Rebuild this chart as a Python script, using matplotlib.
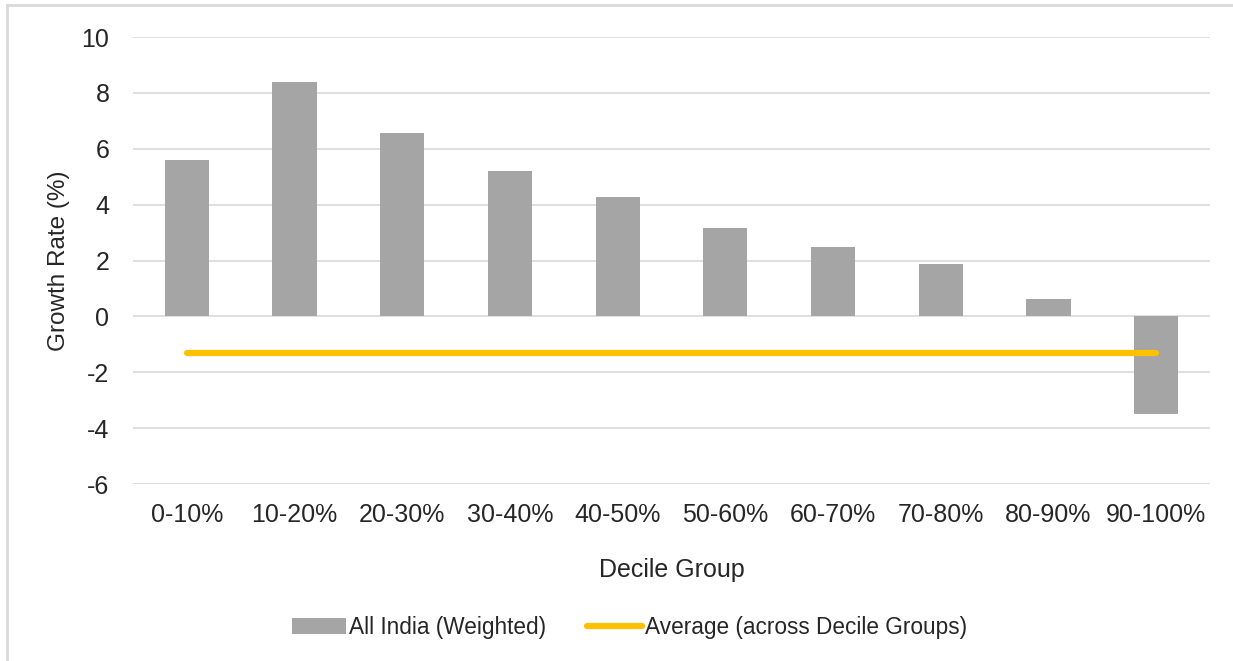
import matplotlib.pyplot as plt
from matplotlib.lines import Line2D

# Datos
deciles = ["0-10%", "10-20%", "20-30%", "30-40%", "40-50%",
           "50-60%", "60-70%", "70-80%", "80-90%", "90-100%"]
crecimiento = [5.6, 8.4, 6.55, 5.22, 4.29, 3.15, 2.47, 1.86, 0.61, -3.51]
promedio = [-1.32] * len(deciles)
ticks_y = [-6, -4, -2, 0, 2, 4, 6, 8, 10]

plt.rcParams["font.family"] = ["Liberation Sans", "DejaVu Sans"]

fig = plt.figure(figsize=(12.33, 6.61), dpi=100)
ax = fig.add_axes([133 / 1233, 1 - 484 / 661, 1077 / 1233, 447 / 661])

x = list(range(len(deciles)))
barras = ax.bar(x, crecimiento, width=0.41, color="#a5a5a5", zorder=2,
                label="All India (Weighted)")
linea, = ax.plot(x, promedio, color="#ffc000", linewidth=4.5,
                 solid_capstyle="round", zorder=3,
                 label="Average (across Decile Groups)")

ax.set_xlim(-0.5, len(deciles) - 0.5)
ax.set_ylim(-6, 10)
ax.set_yticks(ticks_y)
ax.set_yticklabels([str(t) for t in ticks_y])
ax.set_xticks(x)
ax.set_xticklabels(deciles)
ax.tick_params(axis="both", length=0, labelsize=18, colors="#262626")
ax.tick_params(axis="x", pad=14)
ax.tick_params(axis="y", pad=17)
ax.grid(axis="y", color="#d9d9d9", linewidth=1.2, zorder=0)
for lado in ax.spines.values():
    lado.set_visible(False)

ax.set_xlabel("Decile Group", fontsize=18, color="#262626", labelpad=22)
ax.set_ylabel("Growth Rate (%)", fontsize=17.5, color="#262626", labelpad=8)

ax.legend(handles=[barras, linea], loc="center", bbox_to_anchor=(0.461, -0.32),
          ncol=2, frameon=False, fontsize=16.3, handlelength=2.4,
          handletextpad=0.15, columnspacing=1.8, labelcolor="#262626")

# Borde parcial de la figura
fig.add_artist(Line2D([7 / 1233, 7 / 1233], [0, 1 - 5 / 661],
                      color="#d9d9d9", linewidth=2, transform=fig.transFigure))
fig.add_artist(Line2D([7 / 1233, 1], [1 - 5 / 661, 1 - 5 / 661],
                      color="#d9d9d9", linewidth=2, transform=fig.transFigure))

fig.savefig("out.png", dpi=100)
